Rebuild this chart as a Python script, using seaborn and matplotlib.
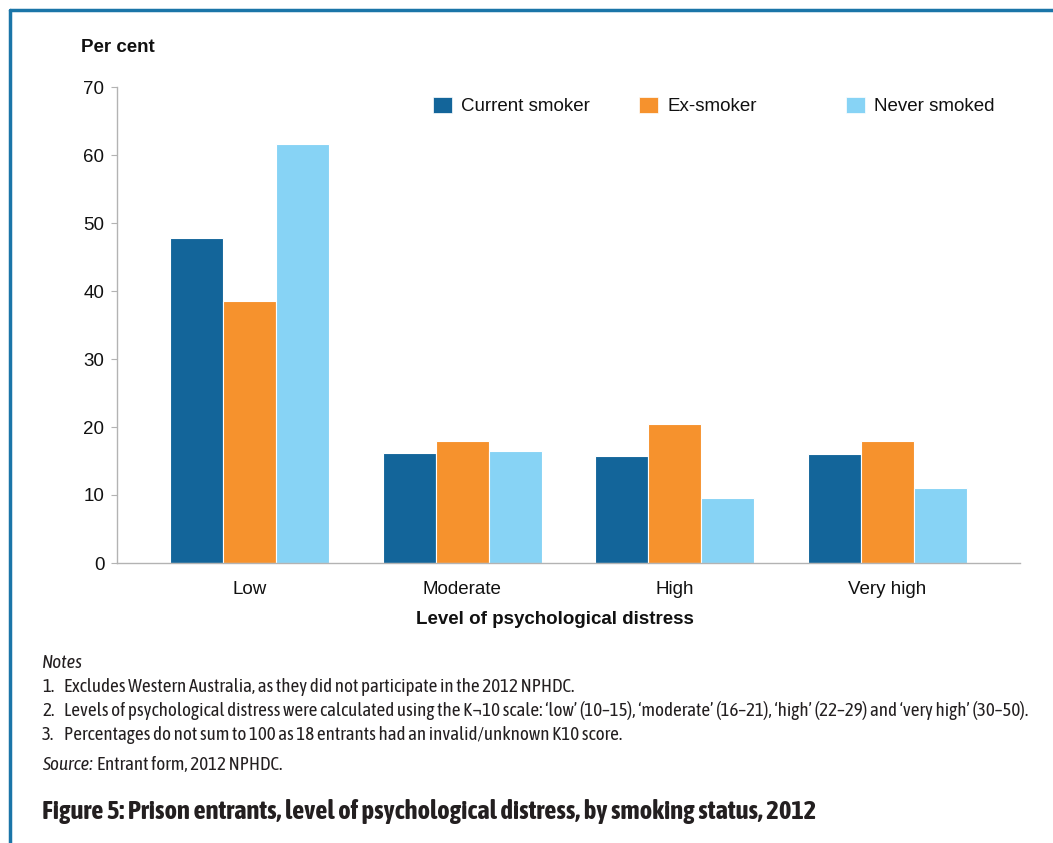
import os
import matplotlib
matplotlib.use("Agg")
import matplotlib.pyplot as plt
import seaborn as sns
import pandas as pd
from matplotlib.lines import Line2D
from matplotlib.patches import Patch
from matplotlib import font_manager as fm
from matplotlib.textpath import TextPath

# ---- data ----
levels = ["Low", "Moderate", "High", "Very high"]
statuses = ["Current smoker", "Ex-smoker", "Never smoked"]
current_smoker = [47.8, 16.2, 15.7, 16.1]
ex_smoker = [38.5, 17.9, 20.4, 17.9]
never_smoked = [61.6, 16.5, 9.6, 11.0]
yticks = [0, 10, 20, 30, 40, 50, 60, 70]

colors = ["#13659a", "#f6922d", "#87d3f5"]

rows = []
for st, vals in zip(statuses, [current_smoker, ex_smoker, never_smoked]):
    for lv, v in zip(levels, vals):
        rows.append({"level": lv, "status": st, "value": v})
df = pd.DataFrame(rows)

sns.set_theme(style="white")
plt.rcParams["font.family"] = ["Liberation Sans", "DejaVu Sans"]

# ---- choose a condensed sans font (close to Myriad Condensed) for notes/title ----
SAMPLE = "Prison entrants, level of psychological distress"


def _width(fp):
    try:
        return TextPath((0, 0), SAMPLE, size=10, prop=fp).get_extents().width
    except Exception:
        return None


def _weight(f):
    return f.weight if isinstance(f.weight, int) else (700 if "bold" in str(f.weight) else 400)


def _is_narrow(f):
    s = (f.name + " " + os.path.basename(f.fname)).lower()
    return (str(f.stretch) in ("condensed", "semi-condensed")
            or "narrow" in s or "condensed" in s)


_ref = {}
for b in (False, True):
    _ref[b] = _width(fm.FontProperties(family="Liberation Sans",
                                       weight="bold" if b else "normal")) or 1.0


def find_narrow(bold=False, italic=False, family_hint=None):
    best, best_score = None, None
    for f in fm.fontManager.ttflist:
        if not _is_narrow(f):
            continue
        s = (f.name + " " + os.path.basename(f.fname)).lower()
        if any(k in s for k in ("mono", "cjk", "extra", "ultra", "serif", "light",
                                "thin", "black", "medium", "semibold")):
            continue
        try:
            if os.path.getsize(f.fname) > 3_000_000:
                continue
        except OSError:
            continue
        w = _weight(f)
        if bold and w != 700:
            continue
        if not bold and w != 400:
            continue
        if (f.style in ("italic", "oblique")) != italic:
            continue
        wd = _width(fm.FontProperties(fname=f.fname))
        if wd is None:
            continue
        ratio = wd / _ref[bold]
        if ratio < 0.7 or ratio > 0.95:
            continue
        score = abs(ratio - 0.82)
        if family_hint and f.name != family_hint:
            score += 0.2
        if best is None or score < best_score:
            best, best_score = f, score
    return best


def props(bold=False, italic=False, family_hint=None):
    f = find_narrow(bold, italic, family_hint)
    if f is not None:
        return fm.FontProperties(fname=f.fname), f.name
    return fm.FontProperties(family=["Liberation Sans", "DejaVu Sans"],
                             weight="bold" if bold else "normal",
                             style="italic" if italic else "normal"), None


p_reg, fam = props()
p_it, _ = props(italic=True, family_hint=fam)
p_bold, _ = props(bold=True, family_hint=fam)

W, H = 1053, 843
fig = plt.figure(figsize=(W / 100, H / 100), dpi=100)
fig.patch.set_facecolor("white")


def fx(px):
    return px / W


def fy(py):
    return 1 - py / H


ax = fig.add_axes([fx(117), fy(563), fx(1020) - fx(117), fy(87) - fy(563)])

sns.barplot(data=df, x="level", y="value", hue="status", order=levels,
            hue_order=statuses, palette=colors, width=0.75, ax=ax, saturation=1,
            edgecolor="white", linewidth=0.8, legend=False, errorbar=None)

ax.set_ylim(0, 70)
ax.set_xlim(-0.6245, 3.6245)
ax.set_yticks(yticks)
ax.set_yticklabels([str(t) for t in yticks])
ax.set_ylabel("")
ax.set_xlabel("Level of psychological distress", fontsize=13.5, fontweight="bold",
              color="#111111")
ax.xaxis.set_label_coords((555 - 117) / 903, -(619 - 563) / 476)
ax.xaxis.label.set_va("center")
ax.xaxis.label.set_ha("center")

for s in ["top", "right"]:
    ax.spines[s].set_visible(False)
for s in ["left", "bottom"]:
    ax.spines[s].set_color("#b3b3b3")
    ax.spines[s].set_linewidth(1.0)

ax.tick_params(axis="y", left=True, length=4, width=0.8, color="#b3b3b3",
               pad=5, labelsize=13.5, labelcolor="#111111")
ax.tick_params(axis="x", bottom=False, length=0, pad=13, labelsize=13.5,
               labelcolor="#111111")

# legend: three single-entry legends placed like the reference
leg_x = [433, 639, 846]
for i, (st, c) in enumerate(zip(statuses, colors)):
    lg = fig.legend(handles=[Patch(facecolor=c, edgecolor="white", linewidth=0.5, label=st)],
                    loc="center left", bbox_to_anchor=(fx(leg_x[i]), fy(106)),
                    frameon=False, fontsize=13.5, handlelength=1.0, handleheight=1.0,
                    handletextpad=0.5, borderpad=0, borderaxespad=0)
    for t in lg.get_texts():
        t.set_color("#111111")

# y-axis title
fig.text(fx(81), fy(48), "Per cent", fontsize=13.5, fontweight="bold",
         ha="left", va="center", color="#111111")

# frame lines
fig.add_artist(Line2D([fx(10), 1.0], [fy(10), fy(10)], color="#1a75a8", lw=2.5,
                      transform=fig.transFigure))
fig.add_artist(Line2D([fx(10), fx(10)], [fy(10), 0.0], color="#1a75a8", lw=2.5,
                      transform=fig.transFigure))

# notes
note_col = "#231f20"
notes = [
    "Excludes Western Australia, as they did not participate in the 2012 NPHDC.",
    "Levels of psychological distress were calculated using the K\u00ac10 scale: "
    "\u2018low\u2019 (10\u201315), \u2018moderate\u2019 (16\u201321), "
    "\u2018high\u2019 (22\u201329) and \u2018very high\u2019 (30\u201350).",
    "Percentages do not sum to 100 as 18 entrants had an invalid/unknown K10 score.",
]
renderer = fig.canvas.get_renderer()


def fit_size(text, fp, target_px, base=12.0):
    t = fig.text(0, 0, text, fontproperties=fp, fontsize=base)
    w = t.get_window_extent(renderer=renderer).width
    t.remove()
    return base * target_px / w


note_fs = min(fit_size(notes[1], p_reg, 1023 - 64), 14)
title_txt = "Figure 5: Prison entrants, level of psychological distress, by smoking status, 2012"
title_fs = min(fit_size(title_txt, p_bold, 810 - 42), 19.5)

fig.text(fx(42), fy(663), "Notes", fontproperties=p_it, fontsize=note_fs,
         ha="left", va="center", color=note_col)
for i, (yy, n) in enumerate(zip([687, 711, 735], notes)):
    fig.text(fx(42), fy(yy), f"{i + 1}.", fontproperties=p_reg, fontsize=note_fs,
             ha="left", va="center", color=note_col)
    fig.text(fx(64), fy(yy), n, fontproperties=p_reg, fontsize=note_fs,
             ha="left", va="center", color=note_col)

src = fig.text(fx(42), fy(765), "Source:", fontproperties=p_it, fontsize=note_fs,
               ha="left", va="center", color=note_col)
bb = src.get_window_extent(renderer=renderer)
fig.text(bb.x1 / W + fx(4), fy(765), "Entrant form, 2012 NPHDC.", fontproperties=p_reg,
         fontsize=note_fs, ha="left", va="center", color=note_col)

fig.text(fx(42), fy(812), title_txt, fontproperties=p_bold, fontsize=title_fs,
         ha="left", va="center", color="#231f20")

fig.savefig("out.png", dpi=100, facecolor="white")
